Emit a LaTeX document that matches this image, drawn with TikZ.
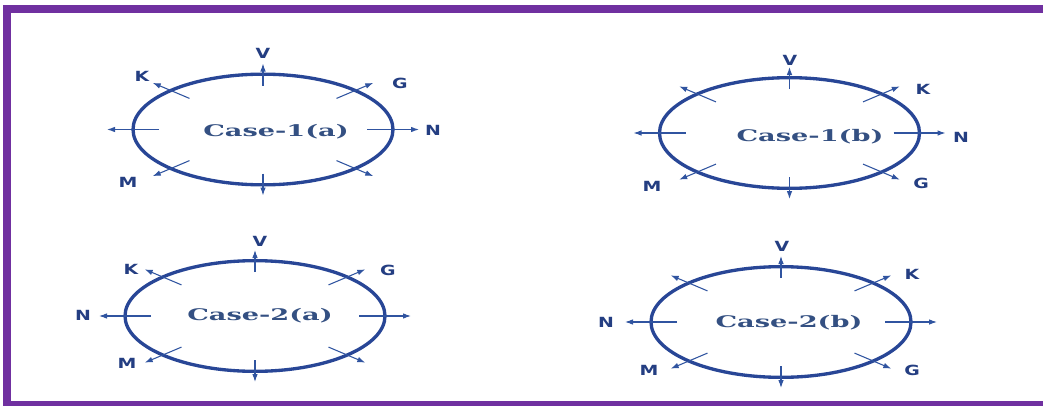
\documentclass[tikz,border=0pt]{standalone}
\usepackage{fontspec}
\usetikzlibrary{shapes.geometric,arrows.meta,calc}
\newfontfamily\lblfont{DejaVu Sans}
\newfontfamily\casefont{DejaVu Serif}
\definecolor{framepurple}{RGB}{112,48,160}
\definecolor{ringblue}{RGB}{40,70,150}
\definecolor{spokeblue}{RGB}{48,84,160}
\definecolor{txtblue}{RGB}{52,80,130}
\definecolor{lblblue}{RGB}{36,62,130}
\newcommand{\casetxt}[1]{\scalebox{1.7}[1]{\casefont\bfseries #1}}
\newcommand{\dirtxt}[1]{\scalebox{1.35}[1]{\lblfont\bfseries #1}}

\begin{document}
\begin{tikzpicture}[x=0.75pt, y=0.75pt,
  ring/.style={draw=ringblue, line width=2.5pt, ellipse, minimum width=195pt, minimum height=83pt, inner sep=0pt},
  casename/.style={text=txtblue, font=\fontsize{12}{14}\selectfont, inner sep=0pt},
  lbl/.style={text=lblblue, font=\fontsize{10.5}{12}\selectfont, inner sep=0pt},
  spoke/.style={-{Latex[length=6pt, width=4.2pt]}, line width=0.8pt, spokeblue}]
\useasboundingbox (0,0) rectangle (1043,405);
\draw[framepurple, line width=6pt] (1043,396) -- (7,396) -- (7,0) -- (1043,0);

\node[ring] (c1a) at (263,275.5) {};
\node[ring] (c1b) at (789.5,272) {};
\node[ring] (c2a) at (255,89) {};
\node[ring] (c2b) at (781,83) {};

\node[casename] (c1a-name) at (276,273) {\casetxt{Case-1(a)}};
\node[casename] (c1b-name) at (810,268) {\casetxt{Case-1(b)}};
\node[casename] (c2a-name) at (260,89) {\casetxt{Case-2(a)}};
\node[casename] (c2b-name) at (789,82) {\casetxt{Case-2(b)}};

\foreach \c in {c1a,c1b,c2a,c2b}
  \foreach \a in {0,45,...,315} {
    \coordinate (\c-i\a) at ($(\c.center)+({104*cos(\a)},{44*sin(\a)})$);
    \coordinate (\c-o\a) at ($(\c.center)+({156*cos(\a)},{66*sin(\a)})$);
    \draw[spoke] (\c-i\a) -- (\c-o\a);
  }

\node[lbl] (c1a-v) at (263,352) {\dirtxt{V}};
\node[lbl] (c1a-k) at (142,329) {\dirtxt{K}};
\node[lbl] (c1a-g) at (400,322) {\dirtxt{G}};
\node[lbl] (c1a-n) at (433,275) {\dirtxt{N}};
\node[lbl] (c1a-m) at (128,223) {\dirtxt{M}};

\node[lbl] (c1b-v) at (790,345) {\dirtxt{V}};
\node[lbl] (c1b-k) at (923,315.5) {\dirtxt{K}};
\node[lbl] (c1b-n) at (961,267.5) {\dirtxt{N}};
\node[lbl] (c1b-m) at (652,219) {\dirtxt{M}};
\node[lbl] (c1b-g) at (921,222) {\dirtxt{G}};

\node[lbl] (c2a-v) at (260,164) {\dirtxt{V}};
\node[lbl] (c2a-k) at (131,136) {\dirtxt{K}};
\node[lbl] (c2a-g) at (388,135) {\dirtxt{G}};
\node[lbl] (c2a-n) at (83,89.5) {\dirtxt{N}};
\node[lbl] (c2a-m) at (127,42) {\dirtxt{M}};

\node[lbl] (c2b-v) at (782,159) {\dirtxt{V}};
\node[lbl] (c2b-k) at (912,130.5) {\dirtxt{K}};
\node[lbl] (c2b-n) at (606,83) {\dirtxt{N}};
\node[lbl] (c2b-m) at (649,35) {\dirtxt{M}};
\node[lbl] (c2b-g) at (912,35) {\dirtxt{G}};
\end{tikzpicture}
\end{document}
